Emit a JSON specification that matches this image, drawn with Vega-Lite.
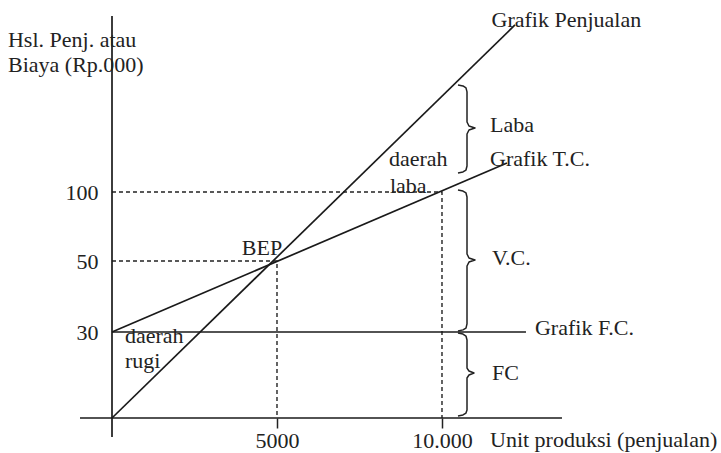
{
  "$schema": "https://vega.github.io/schema/vega-lite/v6.json",
  "width": 721,
  "height": 453,
  "autosize": "none",
  "padding": 0,
  "background": "white",
  "config": {"view": {"stroke": null}},
  "datasets": {
    "lines": [
      {"id": "xaxis", "o": 0, "x": -970, "y": 0},
      {"id": "xaxis", "o": 1, "x": 13636, "y": 0},
      {"id": "yaxis", "o": 0, "x": 0, "y": -6.6},
      {"id": "yaxis", "o": 1, "x": 0, "y": 227.5},
      {"id": "penjualan", "o": 0, "x": 0, "y": 0},
      {"id": "penjualan", "o": 1, "x": 12212, "y": 221.0},
      {"id": "tc", "o": 0, "x": 0, "y": 30},
      {"id": "tc", "o": 1, "x": 11970, "y": 121.0},
      {"id": "fc", "o": 0, "x": 0, "y": 30},
      {"id": "fc", "o": 1, "x": 12545, "y": 30}
    ],
    "dashed": [
      {"id": "d100", "o": 0, "x": 0, "y": 100},
      {"id": "d100", "o": 1, "x": 10000, "y": 100},
      {"id": "d100", "o": 2, "x": 10000, "y": 0},
      {"id": "d50", "o": 0, "x": 0, "y": 50},
      {"id": "d50", "o": 1, "x": 5000, "y": 50},
      {"id": "d50", "o": 2, "x": 5000, "y": 0}
    ],
    "braces": [
      {"id": "laba", "o": 0, "x": 10485, "y": 177.5},
      {"id": "laba", "o": 1, "x": 10636, "y": 176.8},
      {"id": "laba", "o": 2, "x": 10727, "y": 175.4},
      {"id": "laba", "o": 3, "x": 10758, "y": 172.5},
      {"id": "laba", "o": 4, "x": 10758, "y": 150.7},
      {"id": "laba", "o": 5, "x": 10818, "y": 147.8},
      {"id": "laba", "o": 6, "x": 11000, "y": 146.4},
      {"id": "laba", "o": 7, "x": 10818, "y": 144.9},
      {"id": "laba", "o": 8, "x": 10758, "y": 142.0},
      {"id": "laba", "o": 9, "x": 10758, "y": 118.8},
      {"id": "laba", "o": 10, "x": 10727, "y": 115.9},
      {"id": "laba", "o": 11, "x": 10636, "y": 114.5},
      {"id": "laba", "o": 12, "x": 10485, "y": 113.8},
      {"id": "vc", "o": 0, "x": 10485, "y": 101.4},
      {"id": "vc", "o": 1, "x": 10636, "y": 100.7},
      {"id": "vc", "o": 2, "x": 10727, "y": 99.3},
      {"id": "vc", "o": 3, "x": 10758, "y": 96.4},
      {"id": "vc", "o": 4, "x": 10758, "y": 55.1},
      {"id": "vc", "o": 5, "x": 10818, "y": 52.2},
      {"id": "vc", "o": 6, "x": 11000, "y": 50.7},
      {"id": "vc", "o": 7, "x": 10818, "y": 49.7},
      {"id": "vc", "o": 8, "x": 10758, "y": 48.6},
      {"id": "vc", "o": 9, "x": 10758, "y": 32.3},
      {"id": "vc", "o": 10, "x": 10727, "y": 31.1},
      {"id": "vc", "o": 11, "x": 10636, "y": 30.6},
      {"id": "vc", "o": 12, "x": 10485, "y": 30.3},
      {"id": "fcb", "o": 0, "x": 10485, "y": 29.65},
      {"id": "fcb", "o": 1, "x": 10636, "y": 29.3},
      {"id": "fcb", "o": 2, "x": 10727, "y": 28.6},
      {"id": "fcb", "o": 3, "x": 10758, "y": 27.2},
      {"id": "fcb", "o": 4, "x": 10758, "y": 17.4},
      {"id": "fcb", "o": 5, "x": 10818, "y": 16.4},
      {"id": "fcb", "o": 6, "x": 10970, "y": 15.7},
      {"id": "fcb", "o": 7, "x": 10818, "y": 15.0},
      {"id": "fcb", "o": 8, "x": 10758, "y": 13.95},
      {"id": "fcb", "o": 9, "x": 10758, "y": 2.79},
      {"id": "fcb", "o": 10, "x": 10727, "y": 1.74},
      {"id": "fcb", "o": 11, "x": 10636, "y": 1.05},
      {"id": "fcb", "o": 12, "x": 10485, "y": 0.7}
    ],
    "labels": [
      {"text": "Hsl. Penj. atau", "x": -3152, "y": 205.1},
      {"text": "Biaya (Rp.000)", "x": -3152, "y": 187.0},
      {"text": "Grafik Penjualan", "x": 11500, "y": 219.6},
      {"text": "Laba", "x": 11455, "y": 143.5},
      {"text": "Grafik T.C.", "x": 11455, "y": 118.8},
      {"text": "daerah", "x": 8394, "y": 118.8},
      {"text": "laba", "x": 8424, "y": 99.3},
      {"text": "V.C.", "x": 11515, "y": 48.9},
      {"text": "Grafik F.C.", "x": 12818, "y": 28.95},
      {"text": "FC", "x": 11515, "y": 13.25},
      {"text": "daerah", "x": 394, "y": 26.2},
      {"text": "rugi", "x": 394, "y": 17.4},
      {"text": "Unit produksi (penjualan)", "x": 11455, "y": -10.1}
    ],
    "points": [
      {"text": "BEP", "x": 4545, "y": 54.3}
    ]
  },
  "encoding": {
    "x": {
      "field": "x",
      "type": "quantitative",
      "scale": {"domain": [-3394, 18455], "nice": false, "zero": false},
      "axis": {
        "values": [5000, 10000],
        "format": "d",
        "labelExpr": "datum.value >= 10000 ? '10.000' : datum.label",
        "title": null,
        "grid": false,
        "domain": false,
        "offset": -35,
        "ticks": true,
        "tickSize": 10,
        "tickWidth": 1.5,
        "tickColor": "#222",
        "labelFont": "Liberation Serif",
        "labelFontSize": 22,
        "labelColor": "#222",
        "labelPadding": 2,
        "labelFlush": false,
        "labelOverlap": false
      }
    },
    "y": {
      "field": "y",
      "type": "quantitative",
      "scale": {
        "domain": [-12.2, 0, 30, 50, 100, 239.1],
        "range": [453, 418, 332, 261, 192, 0],
        "nice": false,
        "zero": false
      },
      "axis": {
        "values": [30, 50, 100],
        "title": null,
        "grid": false,
        "domain": false,
        "ticks": false,
        "offset": -112,
        "labelFont": "Liberation Serif",
        "labelFontSize": 22,
        "labelColor": "#222",
        "labelPadding": 14,
        "labelOverlap": false,
        "labelFlush": false
      }
    }
  },
  "layer": [
    {
      "data": {"name": "dashed"},
      "mark": {"type": "line", "color": "#222", "strokeWidth": 1.4, "strokeDash": [4, 3]},
      "encoding": {"detail": {"field": "id"}, "order": {"field": "o"}}
    },
    {
      "data": {"name": "lines"},
      "mark": {"type": "line", "color": "#1a1a1a", "strokeWidth": 1.7},
      "encoding": {"detail": {"field": "id"}, "order": {"field": "o"}}
    },
    {
      "data": {"name": "braces"},
      "mark": {"type": "line", "color": "#222", "strokeWidth": 1.5, "strokeJoin": "round"},
      "encoding": {"detail": {"field": "id"}, "order": {"field": "o"}}
    },
    {
      "data": {"name": "labels"},
      "mark": {"type": "text", "align": "left", "baseline": "alphabetic", "font": "Liberation Serif", "fontSize": 22, "color": "#222"},
      "encoding": {"text": {"field": "text"}}
    },
    {
      "data": {"name": "points"},
      "mark": {"type": "text", "align": "center", "baseline": "alphabetic", "font": "Liberation Serif", "fontSize": 22, "color": "#222"},
      "encoding": {"text": {"field": "text"}}
    }
  ]
}
